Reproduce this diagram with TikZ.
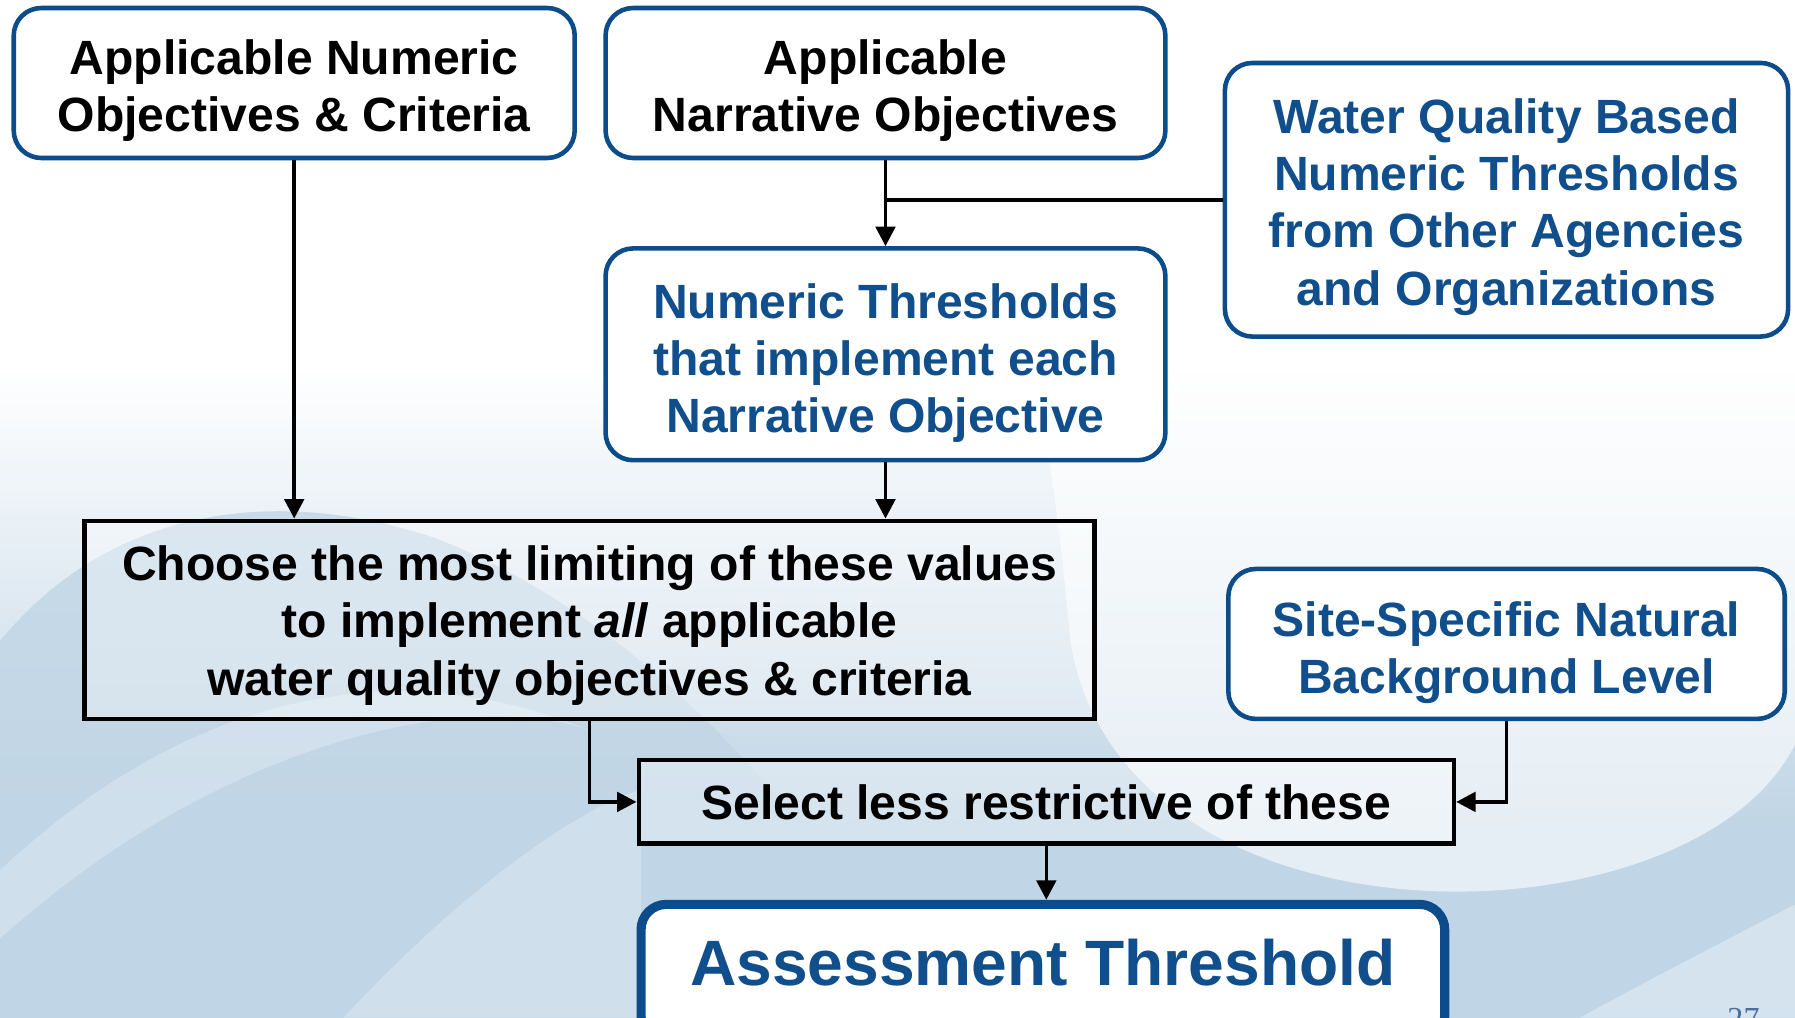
\documentclass[tikz,border=0pt]{standalone}
\usepackage{fontspec}
\setmainfont{Liberation Sans}
\newfontfamily\pagefont{Liberation Serif}
\usetikzlibrary{arrows.meta}
\definecolor{bord}{RGB}{12,76,138}
\definecolor{txtblue}{RGB}{16,78,140}
\definecolor{bgblue}{RGB}{192,213,229}
\definecolor{pgnum}{RGB}{70,110,160}
\newcommand\firstline[1]{\rule{0pt}{#1}}
\begin{document}
\begin{tikzpicture}[x=1pt,y=-1pt,
  basebox/.style={align=center, inner sep=0pt, font=\bfseries\fontsize{42}{50}\selectfont},
  bluebox/.style={basebox, draw=bord, line width=4pt, rounded corners=24pt, fill=white},
  blackbox/.style={basebox, draw=black, line width=4pt, fill=white, fill opacity=0.35, text opacity=1},
  conn/.style={line width=3.2pt, draw=black},
  arr/.style={conn, -{Triangle[width=17pt,length=17pt]}}]
\useasboundingbox (0,0) rectangle (1568,889);
\begin{scope}
\clip (0,0) rectangle (1568,889);
% background
\fill[white] (0,0) rectangle (1568,889);
\shade[top color=white, bottom color=bgblue] (0,320) rectangle (1568,720);
\fill[bgblue] (0,719) rectangle (1568,889);
\fill[bgblue, opacity=0.8] (0,560) .. controls (90,450) and (230,420) .. (380,470)
   .. controls (560,540) and (700,700) .. (820,889) -- (0,889) -- cycle;
\fill[white, opacity=0.25] (0,760) .. controls (150,620) and (330,560) .. (520,640)
   .. controls (420,600) and (200,640) .. (0,820) -- cycle;
\fill[white, opacity=0.6] (900,320) -- (1568,320) -- (1568,650)
   .. controls (1480,830) and (980,840) .. (935,560) .. controls (925,450) and (915,380) .. (900,320) -- cycle;
\fill[white, opacity=0.35] (1380,889) .. controls (1470,840) and (1530,810) .. (1568,790)
   -- (1568,889) -- cycle;
\fill[white, opacity=0.25] (300,889) .. controls (420,760) and (520,700) .. (560,690)
   -- (560,889) -- cycle;

% boxes
\node[bluebox, minimum width=490pt, minimum height=131pt] (A) at (257,72.5)
  {\firstline{43pt}Applicable Numeric\\Objectives \& Criteria};
\node[bluebox, minimum width=489pt, minimum height=131pt] (B) at (773.5,72.5)
  {\firstline{43pt}Applicable\\Narrative Objectives};
\node[bluebox, text=txtblue, minimum width=492pt, minimum height=239pt] (C) at (1316,174.5)
  {\firstline{43pt}Water Quality Based\\Numeric Thresholds\\from Other Agencies\\and Organizations};
\node[bluebox, text=txtblue, minimum width=489pt, minimum height=185pt] (D) at (773.5,309.5)
  {\firstline{46pt}Numeric Thresholds\\that implement each\\Narrative Objective};
\node[blackbox, minimum width=882pt, minimum height=173pt] (E) at (515,541.5)
  {\firstline{40pt}Choose the most limiting of these values\\to implement \textit{all} applicable\\water quality objectives \& criteria};
\node[bluebox, text=txtblue, minimum width=486pt, minimum height=131pt] (F) at (1316,562.5)
  {\firstline{46pt}Site-Specific Natural\\Background Level};
\node[blackbox, minimum width=712pt, minimum height=73pt] (G) at (914,700.5)
  {Select less restrictive of these};
\node[bluebox, text=txtblue, line width=8pt, rounded corners=22pt, minimum width=702pt,
  minimum height=120pt, text depth=18pt, font=\bfseries\fontsize{56}{60}\selectfont] (H) at (911,850)
  {Assessment Threshold};
\node[font=\pagefont\fontsize{28}{30}\selectfont, text=pgnum, anchor=base] (pg) at (1523,899) {27};

% connectors
\coordinate (j) at (B.south |- C.west);
\draw[arr] (A.south) -- (A.south |- E.north);
\draw[arr] (B.south) -- (D.north);
\draw[conn] (C.west) -- (j);
\draw[arr] (D.south) -- (D.south |- E.north);
\draw[arr] (E.south) |- (G.west);
\draw[arr] (F.south) |- (G.east);
\draw[arr] (G.south) -- (G.south |- H.north);
\end{scope}
\end{tikzpicture}
\end{document}
